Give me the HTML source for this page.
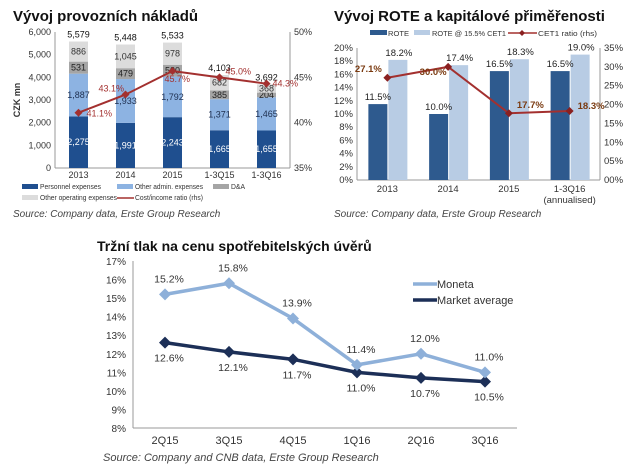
<!DOCTYPE html>
<html><head><meta charset="utf-8"><style>
body{margin:0;background:#fff;}
svg{display:block;font-family:"Liberation Sans",Arial,sans-serif;}
</style></head><body>
<svg id="s" width="640" height="473" viewBox="0 0 640 473">
<text x="13" y="21" font-size="15" font-weight="bold" fill="#111">Vývoj provozních nákladů</text>
<text x="334" y="21" font-size="15" font-weight="bold" fill="#111">Vývoj ROTE a kapitálové přiměřenosti</text>
<text x="97" y="251" font-size="14" font-weight="bold" fill="#111">Tržní tlak na cenu spotřebitelských úvěrů</text>
<text x="13" y="217" font-size="10" font-style="italic" fill="#444">Source: Company data, Erste Group Research</text>
<text x="334" y="217" font-size="10" font-style="italic" fill="#444">Source: Company data, Erste Group Research</text>
<text x="103" y="461" font-size="11" font-style="italic" fill="#444">Source: Company and CNB data, Erste Group Research</text>
</svg>
<script>
// ---- chart 1 data
const c1Cats=["2013","2014","2015","1-3Q15","1-3Q16"];
const c1Personnel=[2275,1991,2243,1665,1655];
const c1Admin=[1887,1933,1792,1371,1465];
const c1DA=[531,479,520,385,204];
const c1Other=[886,1045,978,682,368];
const c1Totals=["5,579","5,448","5,533","4,103","3,692"];
const c1CI=[41.1,43.1,45.7,45.0,44.3];
const c1LeftTicks=[0,1000,2000,3000,4000,5000,6000];
const c1RightTicks=[35,40,45,50];
// ---- chart 2 data
const c2Cats=["2013","2014","2015","1-3Q16"];
const c2Rote=[11.5,10.0,16.5,16.5];
const c2Rote155=[18.2,17.4,18.3,19.0];
const c2Cet1=[27.1,30.0,17.7,18.3];
const c2LeftTicks=[0,2,4,6,8,10,12,14,16,18,20];
const c2RightTicks=["00%","05%","10%","15%","20%","25%","30%","35%"];
// ---- chart 3 data
const c3Cats=["2Q15","3Q15","4Q15","1Q16","2Q16","3Q16"];
const c3Moneta=[15.2,15.8,13.9,11.4,12.0,11.0];
const c3Market=[12.6,12.1,11.7,11.0,10.7,10.5];
const c3Ticks=[8,9,10,11,12,13,14,15,16,17];

const S=document.getElementById('s');const NS='http://www.w3.org/2000/svg';
function mk(t,a,txt){const e=document.createElementNS(NS,t);for(const k in a)e.setAttribute(k,a[k]);if(txt!==undefined)e.textContent=txt;S.appendChild(e);return e;}
const fmt=n=>n.toLocaleString('en-US');

// ===== Chart 1
{
const x0=55,x1=290,yT=32,yB=168;
const y=v=>yB-(v/6000)*(yB-yT);
const yr=v=>yB-((v-35)/15)*(yB-yT);
const step=(x1-x0)/c1Cats.length;const cx=i=>x0+step*(i+0.5);const bw=19;
let e;
e=mk('line',{x1:x0,y1:yT,x2:x0,y2:yB,stroke:'#999'});

e=mk('line',{x1:x0,y1:yB,x2:x1,y2:yB,stroke:'#999'});

e=mk('line',{x1:x1,y1:yT,x2:x1,y2:yB,stroke:'#999'});

c1LeftTicks.forEach(v=>{e=mk('text',{x:x0-4,y:y(v)+3,'font-size':9,'text-anchor':'end',fill:'#333'},fmt(v));
});
c1RightTicks.forEach(v=>{e=mk('text',{x:x1+4,y:yr(v)+3,'font-size':9,fill:'#333'},v+'%');
});
e=mk('text',{x:20,y:100,'font-size':9,'font-weight':'bold',fill:'#333',transform:'rotate(-90 20 100)','text-anchor':'middle'},'CZK mn');

const series=[[c1Personnel,'#1f4f8f','#fff'],[c1Admin,'#8db3e2','#1f3050'],[c1DA,'#a5a5a5','#222'],[c1Other,'#dcdcdc','#333']];
c1Cats.forEach((c,i)=>{let acc=0;
series.forEach(([arr,col,tc],k)=>{const v=arr[i];
e=mk('rect',{x:cx(i)-bw/2,y:y(acc+v),width:bw,height:y(acc)-y(acc+v),fill:col});

e=mk('text',{x:cx(i),y:(y(acc)+y(acc+v))/2+3,'font-size':9,'text-anchor':'middle',fill:tc},fmt(v));

acc+=v;});
e=mk('text',{x:cx(i),y:y(acc)-4,'font-size':9,'text-anchor':'middle',fill:'#111'},c1Totals[i]);

e=mk('text',{x:cx(i),y:yB+10,'font-size':9,'text-anchor':'middle',fill:'#333'},c);

});
e=mk('polyline',{points:c1CI.map((v,i)=>cx(i)+','+yr(v)).join(' '),fill:'none',stroke:'#a3302f','stroke-width':2});

const ciOff=[[8,4],[-27,-3],[-8,11],[6,-3],[6,3]];
c1CI.forEach((v,i)=>{e=mk('path',{d:`M${cx(i)} ${yr(v)-4}L${cx(i)+4} ${yr(v)}L${cx(i)} ${yr(v)+4}L${cx(i)-4} ${yr(v)}Z`,fill:'#a3302f'});

e=mk('text',{x:cx(i)+ciOff[i][0],y:yr(v)+ciOff[i][1],'font-size':9,fill:'#a3302f'},v.toFixed(1)+'%');
});
const leg=[[22,188,'#1f4f8f','Personnel expenses',61],[117,188,'#8db3e2','Other admin. expenses',68],[213,188,'#a5a5a5','D&A',14],[22,199,'#dcdcdc','Other operating expenses',77]];
leg.forEach(([lx,ly,col,t,w])=>{e=mk('rect',{x:lx,y:ly-4,width:16,height:5,fill:col});

e=mk('text',{x:lx+18,y:ly+1,'font-size':7,fill:'#333',textLength:w,lengthAdjust:'spacingAndGlyphs'},t);
});
e=mk('line',{x1:117,y1:198,x2:134,y2:198,stroke:'#a3302f','stroke-width':1.5});

e=mk('text',{x:135,y:200,'font-size':7,fill:'#333',textLength:68,lengthAdjust:'spacingAndGlyphs'},'Cost/income ratio (rhs)');

}

// ===== Chart 2
{
const x0=357,x1=600,yT=48,yB=180;
const y=v=>yB-(v/20)*(yB-yT);const yr=v=>yB-(v/35)*(yB-yT);
const step=(x1-x0)/c2Cats.length;const cx=i=>x0+step*(i+0.5);const bw=19;
let e;
e=mk('line',{x1:x0,y1:yT,x2:x0,y2:yB,stroke:'#999'});

e=mk('line',{x1:x0,y1:yB,x2:x1,y2:yB,stroke:'#999'});

e=mk('line',{x1:x1,y1:yT,x2:x1,y2:yB,stroke:'#999'});

c2LeftTicks.forEach(v=>{e=mk('text',{x:x0-4,y:y(v)+3,'font-size':9.5,'text-anchor':'end',fill:'#333'},v+'%');
});
c2RightTicks.forEach((t,k)=>{e=mk('text',{x:x1+4,y:yr(k*5)+3,'font-size':9.5,fill:'#333'},t);
});
c2Cats.forEach((c,i)=>{
e=mk('rect',{x:cx(i)-bw,y:y(c2Rote[i]),width:bw,height:yB-y(c2Rote[i]),fill:'#2e5a8e'});

e=mk('rect',{x:cx(i)+1,y:y(c2Rote155[i]),width:bw,height:yB-y(c2Rote155[i]),fill:'#b8cce4'});

e=mk('text',{x:cx(i)-bw/2,y:y(c2Rote[i])-4,'font-size':9.5,'text-anchor':'middle',fill:'#222'},c2Rote[i].toFixed(1)+'%');

e=mk('text',{x:cx(i)+bw/2+2,y:y(c2Rote155[i])-4,'font-size':9.5,'text-anchor':'middle',fill:'#222'},c2Rote155[i].toFixed(1)+'%');

e=mk('text',{x:cx(i),y:yB+12,'font-size':9.5,'text-anchor':'middle',fill:'#333'},c);
});
e=mk('text',{x:cx(3),y:yB+23,'font-size':9.5,'text-anchor':'middle',fill:'#333'},'(annualised)');

e=mk('polyline',{points:c2Cet1.map((v,i)=>cx(i)+','+yr(v)).join(' '),fill:'none',stroke:'#a3302f','stroke-width':2});

const off=[[-19,-6],[-15,8],[8,-5],[8,-2]];
c2Cet1.forEach((v,i)=>{e=mk('path',{d:`M${cx(i)} ${yr(v)-4}L${cx(i)+4} ${yr(v)}L${cx(i)} ${yr(v)+4}L${cx(i)-4} ${yr(v)}Z`,fill:'#8a2020'});

e=mk('text',{x:cx(i)+off[i][0],y:yr(v)+off[i][1],'font-size':9.5,'font-weight':'bold','text-anchor':i<2?'middle':'start',fill:'#7a3a10'},v.toFixed(1)+'%');
});
e=mk('rect',{x:370,y:30,width:17,height:5,fill:'#2e5a8e'});

e=mk('text',{x:388,y:36,'font-size':7.5,fill:'#333',textLength:21,lengthAdjust:'spacingAndGlyphs'},'ROTE');

e=mk('rect',{x:414,y:30,width:16,height:5,fill:'#b8cce4'});

e=mk('text',{x:432,y:36,'font-size':7.5,fill:'#333',textLength:74,lengthAdjust:'spacingAndGlyphs'},'ROTE @ 15.5% CET1');

e=mk('line',{x1:508,y1:33,x2:537,y2:33,stroke:'#a3302f','stroke-width':1.5});

e=mk('path',{d:'M522 30L525 33L522 36L519 33Z',fill:'#8a2020'});

e=mk('text',{x:538,y:36,'font-size':7.5,fill:'#333',textLength:59,lengthAdjust:'spacingAndGlyphs'},'CET1 ratio (rhs)');

}

// ===== Chart 3
{
const x0=133,x1=517,yT=261,yB=428;
const y=v=>yB-((v-8)/9)*(yB-yT);
const step=(x1-x0)/c3Cats.length;const cx=i=>x0+step*(i+0.5);
let e;
e=mk('line',{x1:x0,y1:yT,x2:x0,y2:yB,stroke:'#999'});

e=mk('line',{x1:x0,y1:yB,x2:x1,y2:yB,stroke:'#999'});

c3Ticks.forEach(v=>{e=mk('text',{x:x0-7,y:y(v)+4,'font-size':10,'text-anchor':'end',fill:'#333'},v+'%');
});
c3Cats.forEach((c,i)=>{e=mk('text',{x:cx(i),y:yB+16,'font-size':11,'text-anchor':'middle',fill:'#333'},c);
});
const draw=(arr,col,name,dy)=>{
e=mk('polyline',{points:arr.map((v,i)=>cx(i)+','+y(v)).join(' '),fill:'none',stroke:col,'stroke-width':3.5});

arr.forEach((v,i)=>{e=mk('path',{d:`M${cx(i)} ${y(v)-6}L${cx(i)+6} ${y(v)}L${cx(i)} ${y(v)+6}L${cx(i)-6} ${y(v)}Z`,fill:col});

e=mk('text',{x:cx(i)+4,y:y(v)+dy,'font-size':10.5,'text-anchor':'middle',fill:'#333'},v.toFixed(1)+'%');
});};
draw(c3Market,'#1c2f57','c3-market',19);
draw(c3Moneta,'#8eb0d9','c3-moneta',-12);
e=mk('line',{x1:413,y1:284,x2:437,y2:284,stroke:'#8eb0d9','stroke-width':3.5});

e=mk('text',{x:437,y:288,'font-size':11,fill:'#333'},'Moneta');

e=mk('line',{x1:413,y1:300,x2:437,y2:300,stroke:'#1c2f57','stroke-width':3.5});

e=mk('text',{x:437,y:304,'font-size':11,fill:'#333'},'Market average');

}
</script>
</body></html>
